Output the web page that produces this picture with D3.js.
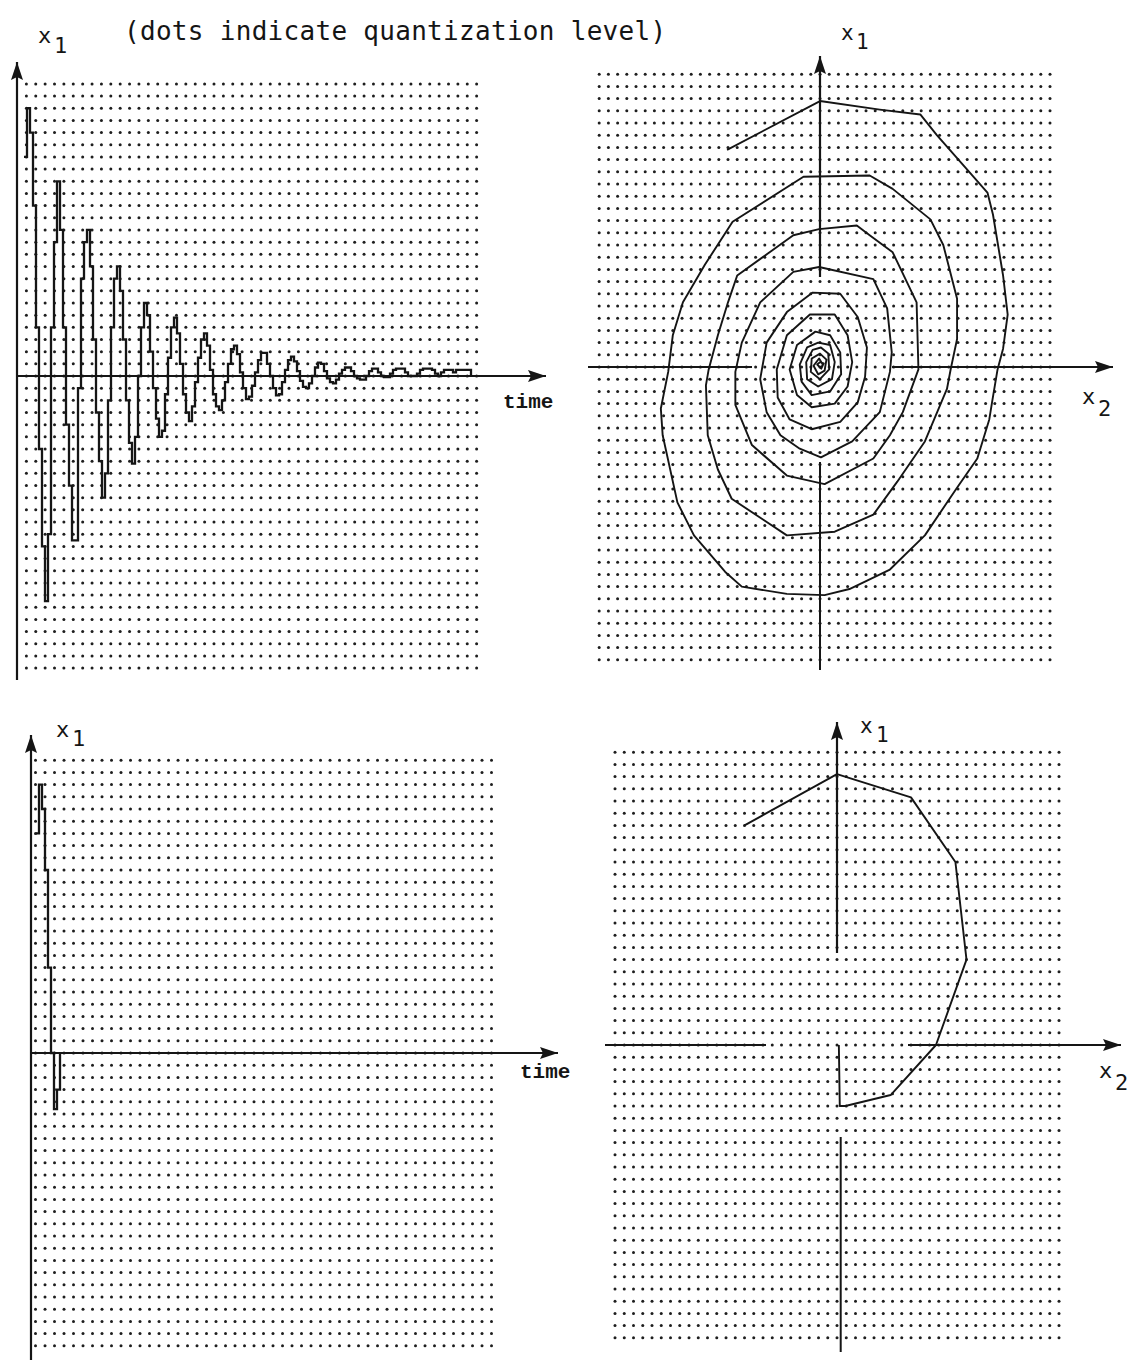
<!DOCTYPE html>
<html><head><meta charset="utf-8">
<script src="https://cdn.jsdelivr.net/npm/d3@7"></script>
<style>body{margin:0;background:#fff}svg{display:block}</style>
</head><body>
<svg id="c" width="1131" height="1360"></svg>
<script>
// ---------- data ----------
const levels = d3.range(-24, 25);            // quantization levels (rows of dots)
const titleText = "(dots indicate quantization level)";
const axisTime = "time";

// top-left: x1 samples versus time (quantization levels)
const tlX1 = [18,22,20,14,4,-6,-14,-18.5,-13,4,11,16,12,4,-4,-9,-13.5,-13.5,-1,8,11,12,9,3,-3,-7,-10,-8,-2,4,8,9,7,3,-2,-5.5,-7.2,-5,0,4,6,5,2,-1,-3.5,-5,-4.5,-1.5,1.5,4,4.8,3.5,1,-1.5,-3,-3.7,-2.5,-0.5,1.5,3,3.5,2.5,0.5,-1.5,-2.5,-2.8,-2,-0.5,1,2.2,2.5,1.8,0.3,-1,-1.9,-1.7,-0.8,0.3,1.3,1.9,1.9,1,0,-1,-1.6,-1.5,-0.5,0.5,1.3,1.6,1.2,0.4,-0.4,-0.9,-1,-0.6,0,0.7,1.1,1,0.4,-0.2,-0.5,-0.6,-0.3,0.2,0.5,0.7,0.7,0.4,0,-0.2,-0.3,-0.3,0,0.4,0.6,0.6,0.3,0,-0.1,-0.1,0.2,0.5,0.6,0.6,0.6,0.3,0,0,0,0.2,0.5,0.6,0.6,0.6,0.5,0.2,0,0.3,0.5,0.5,0.5,0.3,0.5,0.5,0.5,0.5,0.5,0];

// top-right: phase plane trajectory (x2, x1)
const trX2 = [-10.1,0,6.5,10.9,12.7,18.2,18.8,19.9,20.4,19.9,19.3,18.7,18.4,17.1,14.8,11.4,7.6,3.2,0.5,-3.6,-8.5,-10.3,-13.7,-15.5,-17.1,-17.3,-16.5,-16,-14.9,-12.5,-9.5,-1.8,
  5.4,7.9,12,13.4,14.9,14.9,14.2,13.8,11.4,8.4,5.8,1.6,-3.6,-6.2,-9.6,-11.1,-12.2,-12.4,-12.1,-11.1,-10,-9,-2.9,-0.1,
  4,5.4,7.9,10.5,10.7,9,7.6,5.8,0.5,-3.6,-7.4,-9.2,-9.2,-8.5,-6.5,-2.9,-0.1,
  5.8,7.3,7.8,7.6,6.5,3.5,0.1,-2.2,-4.3,-5.8,-6.5,-5.8,-3.6,-0.8,
  2.2,4.1,5.1,4.9,4.1,2.2,-0.9,-3.3,-4.6,-4.7,-3.6,-1.1,
  1.6,3,3.5,3,1.6,-0.9,-2.5,-3.3,-2.5,-0.5,
  1.1,2.2,2.3,1.1,-0.9,-2,-2.2,-1.4,-0.2,
  1.1,1.6,1.3,-0.2,-1.4,-1.5,-0.8,0.1,
  0.9,1,0,-1,-0.9,0,
  0.7,0.5,-0.2,-0.7,-0.1,
  0.3,0.1,-0.3,0,0.4,0.1];
const trX1 = [17.8,21.8,21.1,20.7,19,14.3,12.5,7.5,4.3,1.5,-0.2,-2.9,-4.3,-7.5,-10,-13.8,-16.6,-18.2,-18.7,-18.6,-18,-16.8,-13.8,-11.1,-5.6,-3.4,-0.4,2.6,5.3,8.4,11.9,15.6,
  15.7,14.6,12.1,10,5.6,2.3,-0.2,-1.8,-6.1,-9.4,-12.1,-13.5,-13.8,-12.5,-10.8,-8.4,-5.6,-1.5,-0.2,2.6,5.3,7.5,10.8,11.3,
  11.6,10.8,9.4,5.3,-0.2,-3.7,-5.6,-7.5,-9.6,-8.9,-6.4,-3.1,-0.4,2,5.3,7.8,8.2,
  7.2,4.8,1.2,-0.4,-3.7,-6.1,-7.4,-6.7,-5.6,-3.7,-1,2,4.5,6.1,
  6,4.1,1.6,-0.8,-2.9,-4.5,-5.1,-4.3,-2.5,-0.2,2.6,4.3,
  4.3,2.6,0.4,-1.6,-3,-3.3,-2.3,-0.2,1.8,2.9,
  2.6,1.2,-0.6,-2,-2.3,-1.2,0.2,1.6,2,
  1.8,0.4,-1,-1.6,-1,0.4,1.4,1.6,
  1.1,-0.2,-1,-0.4,0.7,1.1,
  0.6,-0.3,-0.6,0.1,0.7,
  0.2,-0.1,0.2,0.4,0.3,-0.2];

// bottom-left: x1 samples versus time
const blX1 = [18,22,20,15,7,0,-4.6,-3,0];

// bottom-right: phase plane trajectory (x2, x1)
const brX2 = [-10,0,8,12.8,14,10.7,5.8,0.9,0.3,0.2];
const brX1 = [18,22.2,20.3,15,7,0,-4.1,-5,-5,0];

// ---------- drawing ----------
const ink = "#151515";
const svg = d3.select("#c");

function dotGrid(g, xScale, cols, yScale) {
  const pts = [];
  cols.forEach(c => levels.forEach(l => pts.push([c, l])));
  g.append("g").selectAll("circle").data(pts).join("circle")
    .attr("cx", d => xScale(d[0])).attr("cy", d => yScale(d[1]))
    .attr("r", 1.5).attr("fill", "#1e1e1e");
}
function seg(g, x1, y1, x2, y2, w) {
  g.append("line").attr("x1", x1).attr("y1", y1).attr("x2", x2).attr("y2", y2)
    .attr("stroke", ink).attr("stroke-width", w || 2);
}
function arrow(g, x1, y1, x2, y2) {
  seg(g, x1, y1, x2, y2, 2.2);
  const a = Math.atan2(y2 - y1, x2 - x1), L = 18, W = 6;
  const bx = x2 - L * Math.cos(a), by = y2 - L * Math.sin(a);
  const px = -Math.sin(a) * W, py = Math.cos(a) * W;
  g.append("path").attr("d", `M${x2},${y2}L${bx + px},${by + py}L${bx + 3*Math.cos(a)},${by + 3*Math.sin(a)}L${bx - px},${by - py}Z`)
    .attr("fill", ink);
}
function label(g, x, y, main, sub, size, dx, dy) {
  g.append("text").attr("x", x).attr("y", y)
    .attr("font-family", "DejaVu Sans Mono, monospace").attr("font-size", size).attr("fill", ink).text(main);
  g.append("text").attr("x", x + dx).attr("y", y + dy)
    .attr("font-family", "DejaVu Sans Mono, monospace").attr("font-size", size).attr("fill", ink).text(sub);
}
function timeLabel(g, x, y) {
  g.append("text").attr("x", x).attr("y", y).attr("font-family", "Liberation Mono, Courier New, monospace")
    .attr("font-weight", "bold").attr("font-size", 21).attr("fill", ink).text(axisTime);
}

// title
svg.append("text").attr("x", 124).attr("y", 40).attr("font-family", "DejaVu Sans Mono, monospace")
  .attr("font-size", 26).attr("letter-spacing", 0.3).attr("fill", ink).text(titleText);

// ---- top-left panel ----
{
  const g = svg.append("g");
  const col = d3.scaleLinear().domain([0, 49]).range([17, 17 + 49 * 9.38]);
  const y = d3.scaleLinear().domain([-24, 24]).range([376 + 24 * 12.17, 376 - 24 * 12.17]);
  const t = d3.scaleLinear().domain([0, 174]).range([24, 546]);
  dotGrid(g, col, d3.range(1, 50), y);
  arrow(g, col(0), 680, col(0), 62);
  arrow(g, col(0), y(0), 546, y(0));
  g.append("path").datum(tlX1)
    .attr("d", d3.line().x((d, i) => t(i)).y(d => y(d)).curve(d3.curveStepAfter))
    .attr("fill", "none").attr("stroke", ink).attr("stroke-width", 2.3);
  label(g, 38, 43, "x", "1", 22, 16, 10);
  timeLabel(g, 503, 408);
}

// ---- top-right panel ----
{
  const g = svg.append("g");
  const x = d3.scaleLinear().domain([-24, 25]).range([820 - 24 * 9.2, 820 + 25 * 9.2]);
  const y = d3.scaleLinear().domain([-24, 24]).range([367 + 24 * 12.2, 367 - 24 * 12.2]);
  dotGrid(g, x, d3.range(-24, 26), y);
  arrow(g, x(0), 277, x(0), 56);
  seg(g, x(0), 462, x(0), 670, 2);
  seg(g, 588, y(0), 752, y(0), 2);
  arrow(g, 892, y(0), 1113, y(0));
  g.append("path").datum(d3.zip(trX2, trX1))
    .attr("d", d3.line().x(d => x(d[0])).y(d => y(d[1])))
    .attr("fill", "none").attr("stroke", ink).attr("stroke-width", 1.9).attr("stroke-linejoin", "round");
  label(g, 841, 40, "x", "1", 21, 15, 9);
  label(g, 1082, 404, "x", "2", 22, 16, 12);
}

// ---- bottom-left panel ----
{
  const g = svg.append("g");
  const col = d3.scaleLinear().domain([0, 48]).range([35.5, 35.5 + 48 * 9.5]);
  const y = d3.scaleLinear().domain([-24, 24]).range([1053 + 24 * 12.2, 1053 - 24 * 12.2]);
  const t = d3.scaleLinear().domain([0, 174]).range([36, 558]);
  dotGrid(g, col, d3.range(0, 49), y);
  arrow(g, 31, 1360, 31, 735);
  arrow(g, 31, y(0), 558, y(0));
  g.append("path").datum(blX1)
    .attr("d", d3.line().x((d, i) => t(i)).y(d => y(d)).curve(d3.curveStepAfter))
    .attr("fill", "none").attr("stroke", ink).attr("stroke-width", 2.3);
  label(g, 56, 737, "x", "1", 22, 16, 9);
  timeLabel(g, 520, 1078);
}

// ---- bottom-right panel ----
{
  const g = svg.append("g");
  const x = d3.scaleLinear().domain([-24, 24]).range([837 - 24 * 9.25, 837 + 24 * 9.25]);
  const y = d3.scaleLinear().domain([-24, 24]).range([1045 + 24 * 12.2, 1045 - 24 * 12.2]);
  dotGrid(g, x, d3.range(-24, 25), y);
  arrow(g, x(0), 953, x(0), 722);
  seg(g, x(0.4), 1137, x(0.4), 1352, 2);
  seg(g, 605, y(0), 766, y(0), 2);
  arrow(g, 908, y(0), 1121, y(0));
  g.append("path").datum(d3.zip(brX2, brX1))
    .attr("d", d3.line().x(d => x(d[0])).y(d => y(d[1])))
    .attr("fill", "none").attr("stroke", ink).attr("stroke-width", 1.9).attr("stroke-linejoin", "round");
  label(g, 860, 733, "x", "1", 21, 16, 9);
  label(g, 1099, 1078, "x", "2", 22, 16, 12);
}
</script>
</body></html>
